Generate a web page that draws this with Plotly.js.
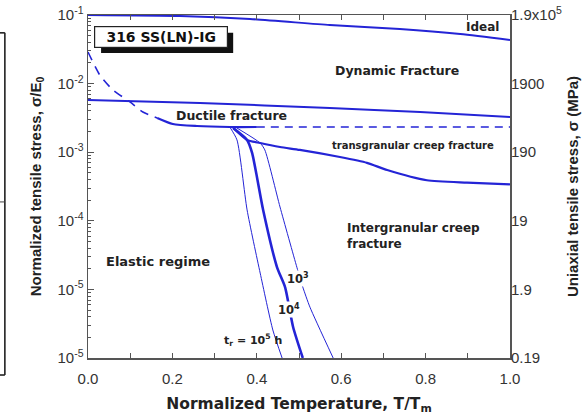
<!DOCTYPE html>
<html>
<head>
<meta charset="utf-8">
<script src="https://cdn.plot.ly/plotly-3.0.1.min.js"></script>
<style>
  html, body { margin: 0; padding: 0; background: #fff; }
  #chart { width: 585px; height: 418px; }
</style>
</head>
<body>
<div id="chart"></div>
<script>
// Fracture mechanism map for 316 SS(LN)-IG: normalized stress vs homologous temperature.

// Ideal strength
const idealT = [0, 0.218, 0.384, 0.573, 0.739, 0.882, 1.0];
const idealS = [0.1, 0.0966, 0.0875, 0.0714, 0.0625, 0.0528, 0.0433];

// Dynamic / ductile fracture boundary
const ductT = [0, 0.265, 0.573, 0.787, 1.0];
const ductS = [5.77e-3, 5.21e-3, 4.41e-3, 3.85e-3, 3.26e-3];

// Elastic limit (dashed part, then solid)
const elasticT = [0, 0.028, 0.059, 0.0995, 0.130, 0.164];
const elasticS = [2.89e-2, 1.33e-2, 8.07e-3, 5.40e-3, 3.85e-3, 3.16e-3];
const boundT = [0.164, 0.201, 0.258, 0.336, 0.40];
const boundS = [3.16e-3, 2.58e-3, 2.41e-3, 2.33e-3, 2.33e-3];
const extT = [0.40, 1.0];
const extS = [2.33e-3, 2.33e-3];

// Transgranular / intergranular creep boundary
const tgT = [0.344, 0.377, 0.408, 0.455, 0.502, 0.597, 0.661, 0.709, 0.803, 0.898, 1.0];
const tgS = [2.25e-3, 1.51e-3, 1.36e-3, 1.19e-3, 1.08e-3, 8.5e-4, 7.0e-4, 5.5e-4, 3.9e-4, 3.6e-4, 3.4e-4];

// Constant rupture-time contours (h)
const r5T = [0.336, 0.353, 0.377, 0.408, 0.438, 0.460];
const r5S = [2.33e-3, 1.51e-3, 1.44e-4, 1.73e-5, 2.56e-6, 1e-6];
const r4T = [0.344, 0.377, 0.389, 0.415, 0.448, 0.467, 0.486, 0.509];
const r4S = [2.25e-3, 1.51e-3, 9.7e-4, 1.44e-4, 2.1e-5, 1.08e-5, 2.83e-6, 1e-6];
const r3T = [0.353, 0.408, 0.419, 0.455, 0.495, 0.509, 0.526, 0.581];
const r3S = [2.25e-3, 1.36e-3, 1.08e-3, 1.59e-4, 2.1e-5, 1.08e-5, 5.5e-6, 1e-6];

// Axis ticks
const xTicks = [0, 0.2, 0.4, 0.6, 0.8, 1.0];
const xTickText = ['0.0', '0.2', '0.4', '0.6', '0.8', '1.0'];
const xMinorTicks = [0.1, 0.3, 0.5, 0.7, 0.9];
const yTicks = [1e-1, 1e-2, 1e-3, 1e-4, 1e-5, 1e-6];
const yTickText = ['10<sup>-1</sup>', '10<sup>-2</sup>', '10<sup>-3</sup>', '10<sup>-4</sup>', '10<sup>-5</sup>', '10<sup>-5</sup>'];
const mpaTickText = ['1.9x10<sup>5</sup>', '1900', '190', '19', '1.9', '0.19'];

const BLUE = '#2424d6';
const FONT = '"Liberation Sans", Arial, sans-serif';
const WIDE = '"DejaVu Sans", "Liberation Sans", sans-serif';

function yMinor() {
  const v = [];
  for (let e = -6; e < -1; e++) for (let m = 2; m <= 9; m++) v.push(m * Math.pow(10, e));
  return v;
}

function line(x, y, width, dash, smooth) {
  return {
    x: x, y: y, type: 'scatter', mode: 'lines', hoverinfo: 'skip', showlegend: false,
    line: { color: BLUE, width: width, dash: dash || 'solid',
            shape: smooth ? 'spline' : 'linear', smoothing: 0.6 }
  };
}

const traces = [
  line(idealT, idealS, 2, null, true),
  line(ductT, ductS, 2, null, true),
  line(elasticT, elasticS, 1.6, '9px,7px', true),
  line(boundT, boundS, 2.2, null, true),
  line(extT, extS, 1.6, '8px,6px', false),
  line(tgT, tgS, 2.2, null, true),
  line(r5T, r5S, 1, null, true),
  line(r4T, r4S, 2.6, null, true),
  line(r3T, r3S, 1, null, true),
  { x: [0, 1], y: [1e-1, 1e-6], yaxis: 'y2', type: 'scatter', mode: 'lines',
    line: { width: 0 }, hoverinfo: 'skip', showlegend: false, opacity: 0 }
];

function lab(text, x, ly, size, opts) {
  return Object.assign({
    text: text, x: x, y: ly, xref: 'x', yref: 'y', showarrow: false,
    xanchor: 'center', yanchor: 'middle',
    font: { family: WIDE, size: size, color: '#222', weight: 'bold' }
  }, opts || {});
}

const annotations = [
  lab('Ideal', 0.936, -1.175, 12),
  lab('Dynamic Fracture', 0.732, -1.816, 12.5),
  lab('Ductile fracture', 0.341, -2.472, 12.5),
  lab('transgranular creep fracture', 0.770, -2.895, 10),
  lab('Intergranular creep<br>fracture', 0.609, -4.222, 12, { xanchor: 'left', align: 'left' }),
  lab('Elastic regime', 0.166, -4.586, 13),
  lab('10<sup>3</sup>', 0.497, -4.834, 11.5, { bgcolor: '#fff', borderpad: 0 }),
  lab('10<sup>4</sup>', 0.476, -5.300, 11.5, { bgcolor: '#fff', borderpad: 0 }),
  lab('t<sub>r</sub> = 10<sup>5</sup> h', 0.391, -5.738, 11),
  { text: '316 SS(LN)-IG', xref: 'x domain', yref: 'y domain', x: 0.173, y: 0.936,
    xanchor: 'center', yanchor: 'middle', showarrow: false,
    width: 128, height: 16, borderpad: 2, bgcolor: '#fff', bordercolor: '#222', borderwidth: 1.2,
    font: { family: WIDE, size: 14, color: '#111', weight: 'bold' } }
];

const shapes = [
  // drop shadow behind the material label
  { type: 'rect', xref: 'x domain', yref: 'y domain', x0: 0.031, x1: 0.344, y0: 0.889, y1: 0.948,
    fillcolor: '#111', line: { width: 0 } },
  // edge of neighbouring panel frame
  { type: 'line', xref: 'paper', yref: 'paper', x0: -0.197, x1: -0.197, y0: -0.0496, y1: 0.948,
    line: { color: '#222', width: 1.6 } },
  { type: 'line', xref: 'paper', yref: 'paper', x0: -0.22, x1: -0.197, y0: 0.948, y1: 0.948,
    line: { color: '#222', width: 1.6 } },
  { type: 'line', xref: 'paper', yref: 'paper', x0: -0.22, x1: -0.197, y0: -0.0496, y1: -0.0496,
    line: { color: '#222', width: 1.6 } },
  { type: 'line', xref: 'paper', yref: 'paper', x0: -0.22, x1: -0.197, y0: 0.455, y1: 0.455,
    line: { color: '#444', width: 1 } }
];

const layout = {
  width: 585, height: 418,
  margin: { l: 88, r: 75, t: 15, b: 60 },
  paper_bgcolor: '#fff', plot_bgcolor: '#fff',
  font: { family: FONT, color: '#333' },
  showlegend: false,
  xaxis: {
    range: [0, 1], tickmode: 'array', tickvals: xTicks, ticktext: xTickText,
    ticks: 'inside', ticklen: 5, tickcolor: '#555', tickwidth: 1, ticklabelstandoff: 6,
    minor: { tickvals: xMinorTicks, ticks: 'inside', ticklen: 3, tickcolor: '#555' },
    showline: true, linecolor: '#555', linewidth: 1.5, mirror: 'allticks',
    showgrid: false, zeroline: false,
    tickfont: { family: FONT, size: 15, color: '#333' },
    title: { text: 'Normalized Temperature, T/T<sub>m</sub>', standoff: 12,
             font: { family: WIDE, size: 15.5, color: '#222', weight: 'bold' } }
  },
  yaxis: {
    type: 'log', range: [-6, -1], tickmode: 'array', tickvals: yTicks, ticktext: yTickText,
    ticks: 'inside', ticklen: 6, tickcolor: '#555',
    minor: { tickvals: yMinor(), ticks: 'inside', ticklen: 3, tickcolor: '#555' },
    showline: true, linecolor: '#555', linewidth: 1.5, mirror: true,
    showgrid: false, zeroline: false,
    tickfont: { family: FONT, size: 15, color: '#333' },
    title: { text: 'Normalized tensile stress, σ/E<sub>0</sub>', standoff: 12,
             font: { family: FONT, size: 15, color: '#222', weight: 'bold' } }
  },
  yaxis2: {
    type: 'log', range: [-6, -1], overlaying: 'y', side: 'right',
    tickmode: 'array', tickvals: yTicks, ticktext: mpaTickText, ticks: '', showline: false,
    showgrid: false, zeroline: false,
    tickfont: { family: FONT, size: 15, color: '#333' },
    title: { text: 'Uniaxial tensile stress, σ (MPa)', standoff: 6,
             font: { family: FONT, size: 15, color: '#222', weight: 'bold' } }
  },
  annotations: annotations,
  shapes: shapes
};

Plotly.newPlot('chart', traces, layout, { displayModeBar: false, staticPlot: true });
</script>
</body>
</html>
